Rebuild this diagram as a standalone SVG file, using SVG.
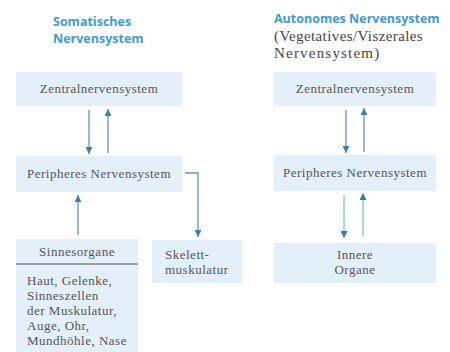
<svg xmlns="http://www.w3.org/2000/svg" width="450" height="352" viewBox="0 0 450 352">
<defs>
<style>
.bg{fill:#ffffff}
.box{fill:#e3eff9}
.title{font-family:"Open Sans","Liberation Sans",sans-serif;font-weight:bold;font-size:12.5px;fill:#3d9ad6}
.sub{font-family:"Liberation Serif",serif;font-size:15px;fill:#444444;letter-spacing:0.4px}
.lbl{font-family:"Liberation Serif",serif;font-size:13px;fill:#555555;letter-spacing:0.5px}
.mid{text-anchor:middle}
.ln{fill:none;stroke:#5f97c2;stroke-width:1.3}
.lnt{fill:none;stroke:#a6dbd2;stroke-width:2}
.rule{stroke:#555555;stroke-width:1}
</style>
<marker id="ah" viewBox="0 0 10 10" refX="10" refY="5" markerWidth="7" markerHeight="7" markerUnits="userSpaceOnUse" orient="auto">
<path d="M0,0 L10,5 L0,10 z" fill="#3f7fb0"/>
</marker>
<marker id="ah2" viewBox="0 0 10 10" refX="10" refY="5" markerWidth="7" markerHeight="7" markerUnits="userSpaceOnUse" orient="auto">
<path d="M0,0 L10,5 L0,10 z" fill="#3a7a9e"/>
</marker>
</defs>
<rect class="bg" x="0" y="0" width="450" height="352"/>

<g id="title-somatic">
<text class="title" x="53" y="26">Somatisches</text>
<text class="title" x="53" y="43">Nervensystem</text>
</g>
<g id="title-autonomic">
<text class="title" x="274" y="23">Autonomes Nervensystem</text>
<text class="sub" x="274" y="41">(Vegetatives/Viszerales</text>
<text class="sub" x="274" y="58" style="letter-spacing:1.2px">Nervensystem)</text>
</g>

<g id="l-zns">
<rect class="box" x="16" y="72" width="166" height="34"/>
<text class="lbl mid" x="99" y="93">Zentralnervensystem</text>
</g>
<g id="l-pns">
<rect class="box" x="16" y="156" width="166" height="36"/>
<text class="lbl mid" x="99" y="178">Peripheres Nervensystem</text>
</g>
<g id="l-sinne">
<rect class="box" x="16" y="239" width="122" height="113"/>
<text class="lbl mid" x="77" y="256">Sinnesorgane</text>
<line class="rule" x1="16" y1="264" x2="138" y2="264"/>
<text class="lbl" x="27" y="285">Haut, Gelenke,</text>
<text class="lbl" x="27" y="300">Sinneszellen</text>
<text class="lbl" x="27" y="315">der Muskulatur,</text>
<text class="lbl" x="27" y="330">Auge, Ohr,</text>
<text class="lbl" x="27" y="345">Mundhöhle, Nase</text>
</g>
<g id="l-skelett">
<rect class="box" x="152" y="240" width="90" height="43"/>
<text class="lbl" x="165" y="259">Skelett-</text>
<text class="lbl" x="165" y="274">muskulatur</text>
</g>

<g id="r-zns">
<rect class="box" x="274" y="72" width="162" height="34"/>
<text class="lbl mid" x="355" y="93">Zentralnervensystem</text>
</g>
<g id="r-pns">
<rect class="box" x="274" y="155" width="162" height="36"/>
<text class="lbl mid" x="355" y="177">Peripheres Nervensystem</text>
</g>
<g id="r-organe">
<rect class="box" x="274" y="243" width="162" height="40"/>
<text class="lbl mid" x="355" y="259">Innere</text>
<text class="lbl mid" x="355" y="274">Organe</text>
</g>

<g id="connectors">
<line class="ln" x1="89" y1="110" x2="89" y2="154" marker-end="url(#ah)"/>
<line class="ln" x1="108" y1="153" x2="108" y2="109" marker-end="url(#ah)"/>
<line class="ln" x1="78" y1="235" x2="78" y2="195" marker-end="url(#ah)"/>
<polyline class="ln" points="185,173 198,173 198,237" marker-end="url(#ah)"/>
<line class="ln" x1="346" y1="110" x2="346" y2="153" marker-end="url(#ah)"/>
<line class="ln" x1="364" y1="152" x2="364" y2="108" marker-end="url(#ah)"/>
<line class="lnt" x1="344" y1="195" x2="344" y2="238" marker-end="url(#ah2)"/>
<line class="lnt" x1="363" y1="236" x2="363" y2="193" marker-end="url(#ah2)"/>
</g>
</svg>
